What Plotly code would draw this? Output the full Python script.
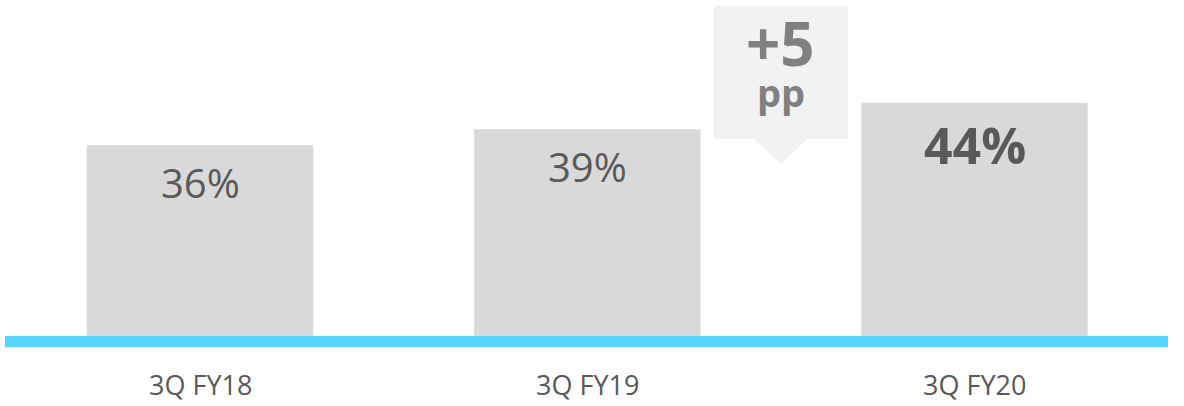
import plotly.graph_objects as go

categories = ["3Q FY18", "3Q FY19", "3Q FY20"]
values = [36, 39, 44]
value_labels = ["36%", "39%", "44%"]
callout_top = "+5"
callout_bottom = "pp"

BAR = "#D9D9D9"
BLUE = "#57D5FF"
TXT = "#595959"
FONT = "Open Sans"

W, H = 1184, 406
PLOT_H = 336  # px of plot area
YMAX = PLOT_H / 5.3

x = list(range(len(categories)))
fig = go.Figure()
fig.add_trace(go.Bar(x=x, y=values, width=0.585, marker=dict(color=BAR, line=dict(width=0)),
                     hoverinfo="skip"))

# value labels inside bars
shifts = [-37, -37, -42]
sizes = [40, 40, 50]
for i, (v, lab) in enumerate(zip(values, value_labels)):
    txt = f"<b>{lab}</b>" if i == len(values) - 1 else lab
    fig.add_annotation(x=i, y=v, text=txt, showarrow=False, yanchor="middle",
                       yshift=shifts[i], font=dict(family=FONT, size=sizes[i], color=TXT))

# category labels
for i, c in enumerate(categories):
    fig.add_annotation(x=i, y=0, text=c, showarrow=False, yanchor="middle",
                       yshift=-48, font=dict(family=FONT, size=27, color=TXT))

# baseline
fig.add_shape(type="rect", xref="paper", x0=0, x1=1, yref="paper", y0=-11 / PLOT_H, y1=0,
              fillcolor=BLUE, line=dict(width=0), layer="above")

# callout between the last two bars
cx = (x[1] + x[2]) / 2
hw = 0.173
top, bot, apex, tw = 62.26, 37.17, 32.45, 0.068
path = (f"M {cx-hw},{top} L {cx+hw},{top} L {cx+hw},{bot} L {cx+tw},{bot} "
        f"L {cx},{apex} L {cx-tw},{bot} L {cx-hw},{bot} Z")
fig.add_shape(type="path", path=path, fillcolor="#F2F2F2", line=dict(width=0), layer="below")
fig.add_annotation(x=cx, y=bot, text=f"<b>{callout_top}</b>", showarrow=False, yanchor="middle",
                   yshift=96, font=dict(family=FONT, size=60, color="#808080"))
fig.add_annotation(x=cx, y=bot, text=f"<b>{callout_bottom}</b>", showarrow=False, yanchor="middle",
                   yshift=47, font=dict(family=FONT, size=38, color="#808080"))

fig.update_layout(
    width=W, height=H,
    margin=dict(l=5, r=16, t=0, b=H - PLOT_H, pad=0),
    paper_bgcolor="white", plot_bgcolor="white",
    showlegend=False,
    xaxis=dict(range=[-0.5036, 2.4997], showgrid=False, zeroline=False, showticklabels=False,
               fixedrange=True),
    yaxis=dict(range=[0, YMAX], showgrid=False, zeroline=False, showticklabels=False,
               fixedrange=True),
)
fig.write_html("out.html", config={"displayModeBar": False},
               post_script="document.body.style.margin='0';document.body.style.overflow='hidden';")
